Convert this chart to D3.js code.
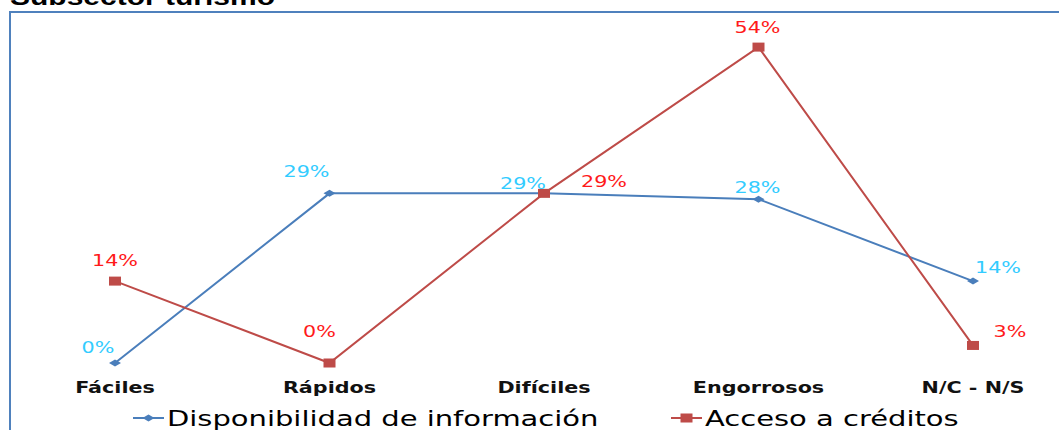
<!DOCTYPE html>
<html>
<head>
<meta charset="utf-8">
<script src="https://cdn.jsdelivr.net/npm/d3@7"></script>
<style>
  body { margin: 0; background: #fff; }
  svg { display: block; }
</style>
</head>
<body>
<svg id="chart" width="1059" height="430"></svg>
<script>
// chart data
const categories = ["Fáciles", "Rápidos", "Difíciles", "Engorrosos", "N/C - N/S"]
const disponibilidad = [0, 29, 29, 28, 14]
const acceso = [14, 0, 29, 54, 3]
const seriesNames = ["Disponibilidad de información", "Acceso a créditos"]
const title = "Subsector turismo"

// label offsets from the point (dx, dy), one per point
const dispLabelOffsets = [[-17, -10], [-23, -16], [-21, -4], [-1, -6], [25, -8]]
const accLabelOffsets = [[0, -15], [-10, -26], [60, -6], [-1, -14], [37, -8]]

const stretch = 1.38   // the source picture is stretched sideways

const svg = d3.select("#chart")
const x = d3.scalePoint().domain(categories).range([115, 973])
const y = d3.scaleLinear().domain([0, 60]).range([363, 12])

// frame
svg.append("rect")
    .attr("x", 10).attr("y", 12)
    .attr("width", 1100).attr("height", 500)
    .attr("fill", "none")
    .attr("stroke", "#4f81bd")
    .attr("stroke-width", 2)

// title, cut off at the top
svg.append("text")
    .attr("transform", `translate(10,5) scale(1.25,1)`)
    .attr("font-family", "Liberation Sans")
    .attr("font-weight", "bold")
    .attr("font-size", 24)
    .attr("fill", "#000")
    .text(title)

const series = [
    { name: seriesNames[0], values: disponibilidad, color: "#4a7ebb", labelColor: "#33ccff", marker: "diamond", offsets: dispLabelOffsets },
    { name: seriesNames[1], values: acceso, color: "#be4b48", labelColor: "#ff1a1a", marker: "square", offsets: accLabelOffsets }
]

const line = d3.line()
    .x((d, i) => x(categories[i]))
    .y(d => y(d))

function drawMarker(g, type, cx, cy, color) {
    if (type === "diamond") {
        g.append("path")
            .attr("d", `M${cx - 6},${cy} L${cx},${cy - 3.5} L${cx + 6},${cy} L${cx},${cy + 3.5} Z`)
            .attr("fill", color)
    } else {
        g.append("rect")
            .attr("x", cx - 6).attr("y", cy - 4.5)
            .attr("width", 12).attr("height", 9)
            .attr("fill", color)
    }
}

function stretchedText(g, tx, ty, str, opts) {
    g.append("text")
        .attr("transform", `translate(${tx},${ty}) scale(${opts.sx || stretch},1)`)
        .attr("text-anchor", opts.anchor || "middle")
        .attr("font-family", "'DejaVu Sans', sans-serif")
        .attr("font-size", opts.size)
        .attr("font-weight", opts.weight || "normal")
        .attr("fill", opts.color)
        .text(str)
}

// category labels
const axisG = svg.append("g")
categories.forEach(c => {
    stretchedText(axisG, x(c), 393, c, { size: 15, weight: "bold", color: "#111" })
})

// lines, markers, labels
series.forEach(s => {
    const g = svg.append("g")
    g.append("path")
        .datum(s.values)
        .attr("d", line)
        .attr("fill", "none")
        .attr("stroke", s.color)
        .attr("stroke-width", 2)
    s.values.forEach((v, i) => {
        drawMarker(g, s.marker, x(categories[i]), y(v), s.color)
    })
})
series.forEach(s => {
    const g = svg.append("g")
    s.values.forEach((v, i) => {
        const [dx, dy] = s.offsets[i]
        stretchedText(g, x(categories[i]) + dx, y(v) + dy, v + "%", { size: 15, color: s.labelColor })
    })
})

// legend
const legendX = [133, 671]
series.forEach((s, i) => {
    const g = svg.append("g")
    const lx = legendX[i]
    g.append("line")
        .attr("x1", lx).attr("x2", lx + 31)
        .attr("y1", 418).attr("y2", 418)
        .attr("stroke", s.color)
        .attr("stroke-width", 2)
    drawMarker(g, s.marker, lx + 15.5, 418, s.color)
    stretchedText(g, lx + 34, 426, s.name, { size: 21, color: "#000", anchor: "start" })
})
</script>
</body>
</html>
